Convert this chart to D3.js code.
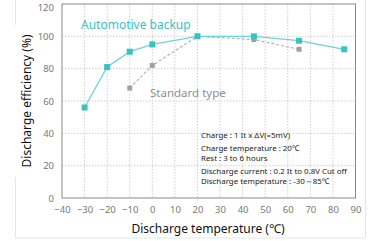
<!DOCTYPE html>
<html>
<head>
<meta charset="utf-8">
<script src="https://cdn.jsdelivr.net/npm/d3@7"></script>
<style>
  body { margin: 0; background: #fff; }
  text { font-family: "Noto Sans", sans-serif; }
</style>
</head>
<body>
<script>
let w = 374;
let h = 241;
let margin = {left: 62, right: 18, top: 4, bottom: 43};

let xTicks = [-40, -30, -20, -10, 0, 10, 20, 30, 40, 50, 60, 70, 80, 90];
let yTicks = [0, 20, 40, 60, 80, 100, 120];

let autoTemps = [-30, -20, -10, 0, 20, 45, 65, 85];
let autoValues = [56, 81, 90.5, 95, 100, 100, 97.3, 92];

let stdTemps = [-10, 0, 20, 45, 65];
let stdValues = [68, 82, 100, 98, 92];

let notes = [
  "Charge : 1 It x ΔV(=5mV)",
  "Charge temperature : 20℃",
  "Rest : 3 to 6 hours",
  "Discharge current : 0.2 It to 0.8V Cut off",
  "Discharge temperature : -30～85℃"
];
let noteY = [135, 148, 158, 171, 181];

let xScale = d3.scaleLinear()
  .domain([-40, 90])
  .range([margin.left, w - margin.right - 0.5]);
let yScale = d3.scaleLinear()
  .domain([0, 120])
  .range([h - margin.bottom, margin.top]);

let svg = d3.select("body")
  .append("svg")
  .attr("width", w)
  .attr("height", h);

// faint outer panel
svg.append("rect")
  .attr("x", 15.5)
  .attr("y", -5)
  .attr("width", 350)
  .attr("height", 243)
  .attr("fill", "none")
  .attr("stroke", "#e6e6e6");

// grid
svg.append("g")
  .selectAll("line")
  .data(xTicks.slice(1, -1))
  .enter()
  .append("line")
  .attr("x1", d => xScale(d))
  .attr("x2", d => xScale(d))
  .attr("y1", yScale(120))
  .attr("y2", yScale(0))
  .attr("stroke", "#cfcfcf")
  .attr("stroke-dasharray", "1.5,1.5");

svg.append("g")
  .selectAll("line")
  .data(yTicks.slice(1, -1))
  .enter()
  .append("line")
  .attr("x1", xScale(-40))
  .attr("x2", xScale(90))
  .attr("y1", d => yScale(d))
  .attr("y2", d => yScale(d))
  .attr("stroke", "#cfcfcf")
  .attr("stroke-dasharray", "1.5,1.5");

// frame
svg.append("rect")
  .attr("x", xScale(-40))
  .attr("y", yScale(120))
  .attr("width", xScale(90) - xScale(-40))
  .attr("height", yScale(0) - yScale(120))
  .attr("fill", "none")
  .attr("stroke", "#8a8a8a");

// axes
let xAxis = d3.axisBottom(xScale).tickValues(xTicks).tickSize(0).tickPadding(8);
let yAxis = d3.axisLeft(yScale).tickValues(yTicks).tickSize(0).tickPadding(8);

let gx = svg.append("g")
  .attr("transform", "translate(0," + yScale(0) + ")")
  .call(xAxis);
let gy = svg.append("g")
  .attr("transform", "translate(" + xScale(-40) + ",0)")
  .call(yAxis);
[gx, gy].forEach(g => {
  g.select(".domain").remove();
  g.selectAll("text")
    .attr("fill", "#777")
    .style("font-size", "9.5px")
    .style("font-family", "Noto Sans, sans-serif");
});
// keep the top label inside the picture
gy.selectAll(".tick text").filter(d => d === 120).attr("dy", "0.7em");

// standard type line
let stdData = stdTemps.map((t, i) => [t, stdValues[i]]);
let autoData = autoTemps.map((t, i) => [t, autoValues[i]]);
let line = d3.line().x(d => xScale(d[0])).y(d => yScale(d[1]));

svg.append("path")
  .datum(stdData)
  .attr("d", line)
  .attr("fill", "none")
  .attr("stroke", "#b5b5b5")
  .attr("stroke-width", 1.2)
  .attr("stroke-dasharray", "3,2");

svg.selectAll(".std")
  .data(stdData)
  .enter()
  .append("rect")
  .attr("class", "std")
  .attr("x", d => xScale(d[0]) - 2.5)
  .attr("y", d => yScale(d[1]) - 2.5)
  .attr("width", 5)
  .attr("height", 5)
  .attr("fill", "#a0a0a0");

svg.append("path")
  .datum(autoData)
  .attr("d", line)
  .attr("fill", "none")
  .attr("stroke", "#6fd3d3")
  .attr("stroke-width", 1.3);

svg.selectAll(".auto")
  .data(autoData)
  .enter()
  .append("rect")
  .attr("class", "auto")
  .attr("x", d => xScale(d[0]) - 3)
  .attr("y", d => yScale(d[1]) - 3)
  .attr("width", 6)
  .attr("height", 6)
  .attr("fill", "#36c3c6");

// series labels
svg.append("text")
  .attr("x", 81)
  .attr("y", 29)
  .attr("fill", "#36c3c6")
  .style("font-size", "12px")
  .text("Automotive backup");

svg.append("text")
  .attr("x", 150)
  .attr("y", 97)
  .attr("fill", "#8f8f8f")
  .style("font-size", "11.5px")
  .text("Standard type");

// notes
svg.selectAll(".note")
  .data(notes)
  .enter()
  .append("text")
  .attr("class", "note")
  .attr("x", 201)
  .attr("y", (d, i) => noteY[i] + 3)
  .attr("fill", "#222")
  .style("font-size", "7.9px")
  .text(d => d);

// axis titles
svg.append("text")
  .attr("x", 208)
  .attr("y", 233)
  .attr("text-anchor", "middle")
  .attr("fill", "#111")
  .style("font-size", "12px")
  .text("Discharge temperature (℃)");

let ylab = svg.append("g")
  .attr("transform", "translate(27," + yScale(60) + ") rotate(-90)");
ylab.append("rect")
  .attr("x", -76)
  .attr("y", -14)
  .attr("width", 152)
  .attr("height", 24)
  .attr("fill", "#fff");
ylab.append("text")
  .attr("x", 0)
  .attr("y", 4)
  .attr("text-anchor", "middle")
  .attr("fill", "#111")
  .style("font-size", "12px")
  .text("Discharge efficiency (%)");
</script>
</body>
</html>
